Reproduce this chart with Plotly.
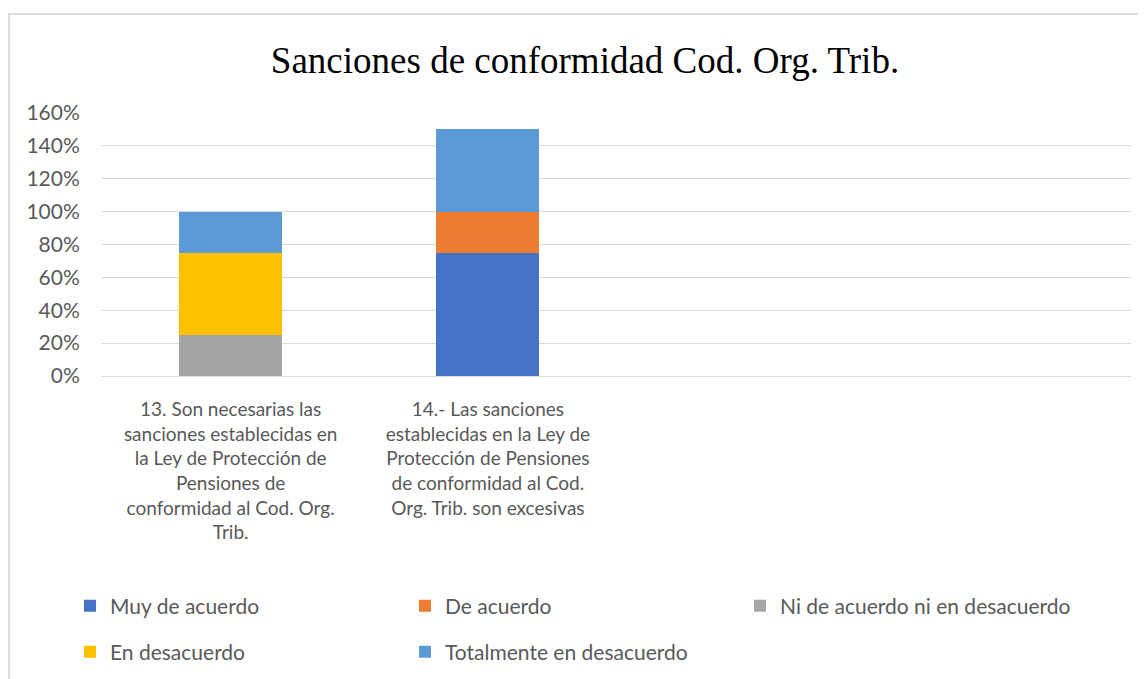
import plotly.graph_objects as go

categories = [
    "13. Son necesarias las<br>sanciones establecidas en<br>la Ley de Protección de<br>Pensiones de<br>conformidad al Cod. Org.<br>Trib.",
    "14.- Las sanciones<br>establecidas en la Ley de<br>Protección de Pensiones<br>de conformidad al Cod.<br>Org. Trib. son excesivas",
]
series_names = [
    "Muy de acuerdo",
    "De acuerdo",
    "Ni de acuerdo ni en desacuerdo",
    "En desacuerdo",
    "Totalmente en desacuerdo",
]
muy_de_acuerdo = [0.0, 0.75]
de_acuerdo = [0.0, 0.25]
ni_de_acuerdo = [0.25, 0.0]
en_desacuerdo = [0.50, 0.0]
totalmente = [0.25, 0.50]
y_ticks = [0, 0.2, 0.4, 0.6, 0.8, 1.0, 1.2, 1.4, 1.6]

colors = ["#4472C4", "#ED7D31", "#A5A5A5", "#FFC000", "#5B9BD5"]
values = [muy_de_acuerdo, de_acuerdo, ni_de_acuerdo, en_desacuerdo, totalmente]
# first legend row -> legend, second row -> legend2
legend_ids = ["legend", "legend", "legend", "legend2", "legend2"]

OFF = 8  # page body margin
W, H = 1146 - OFF, 700  # figure runs a little past the window bottom
L = 102 - OFF
T = 113 - OFF
R = W - (1131 - OFF)
B = H - (376 - OFF)
pw, ph = W - L - R, H - T - B


def px_x(x):
    # reference pixel -> paper x
    return (x - OFF - L) / pw


def px_y(y):
    return (H - B - (y - OFF)) / ph


fig = go.Figure()
for name, vals, col, lg in zip(series_names, values, colors, legend_ids):
    fig.add_trace(go.Bar(
        x=categories, y=vals, name=name, marker_color=col,
        marker_line_width=0, legend=lg,
    ))

legend_common = dict(
    orientation="h", xanchor="left", yanchor="middle",
    entrywidth=290, entrywidthmode="pixels", traceorder="normal",
    font=dict(family="Lato", size=21, color="#595959"),
    itemclick=False, itemdoubleclick=False,
)

fig.update_layout(
    width=W, height=H,
    barmode="stack",
    bargap=0.6,
    plot_bgcolor="white",
    paper_bgcolor="white",
    margin=dict(l=L, r=R, t=T, b=B),
    title=dict(
        text="Sanciones de conformidad Cod. Org. Trib.",
        font=dict(family="Liberation Serif", size=37, color="black"),
        x=(585 - OFF) / W, xref="container", xanchor="center",
        y=1 - (60 - OFF) / H, yref="container", yanchor="middle",
    ),
    xaxis=dict(
        range=[-0.5, 3.5],
        tickfont=dict(family="Lato", size=19, color="#595959"),
        ticks="outside", ticklen=16, tickcolor="rgba(0,0,0,0)",
        showline=True, linecolor="#d9d9d9", linewidth=1,
        showgrid=False,
    ),
    yaxis=dict(
        range=[0, 1.6],
        tickvals=y_ticks,
        tickformat=".0%",
        tickfont=dict(family="Lato", size=21, color="#595959"),
        ticks="outside", ticklen=17, tickcolor="rgba(0,0,0,0)",
        showgrid=True, gridcolor="#d9d9d9", gridwidth=1,
        zeroline=False,
    ),
    legend=dict(legend_common, x=px_x(70), y=px_y(606)),
    legend2=dict(legend_common, x=px_x(70), y=px_y(652)),
    showlegend=True,
)

# chart area border
fig.add_shape(
    type="rect", xref="paper", yref="paper",
    x0=px_x(9), x1=px_x(1180),
    y0=px_y(H + 40), y1=px_y(14),
    line=dict(color="#d0d0d0", width=1.5), fillcolor="rgba(0,0,0,0)",
    layer="below",
)

fig.write_html("out.html")
